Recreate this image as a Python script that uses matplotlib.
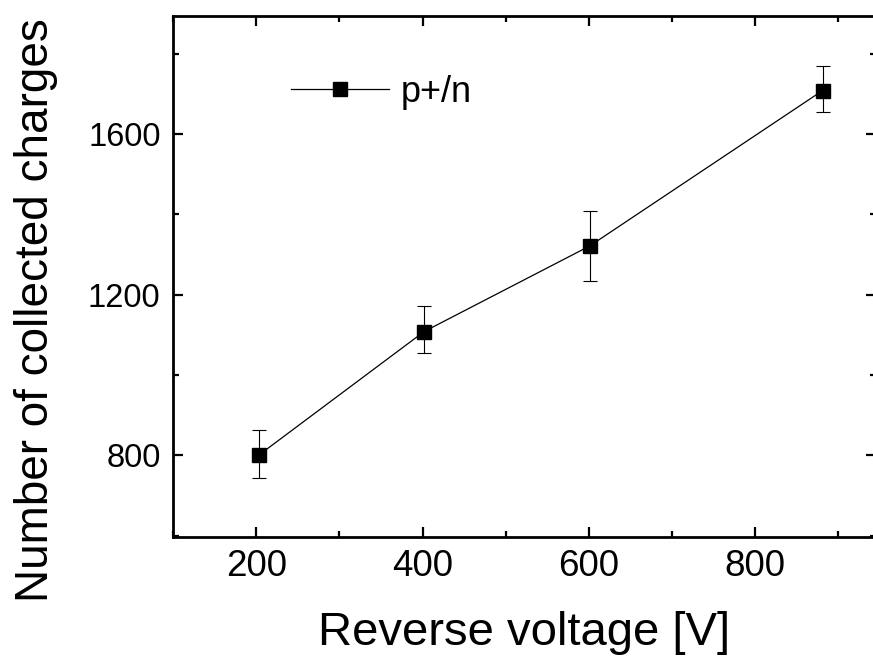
import matplotlib
matplotlib.use("Agg")
import matplotlib.pyplot as plt
from matplotlib.ticker import MultipleLocator

plt.rcParams['font.family'] = ['Liberation Sans', 'DejaVu Sans']

voltage = [203, 402, 601, 881]
charges = [800, 1108, 1321, 1708]
err_low = [56, 54, 87, 54]
err_high = [62, 64, 87, 60]
series_label = "p+/n"
xlabel = "Reverse voltage [V]"
ylabel = "Number of collected charges"

fig = plt.figure(figsize=(8.73, 6.61), dpi=100)
ax = fig.add_axes([0.1982, 0.188, 0.805, 0.788])

ax.errorbar(voltage, charges, yerr=[err_low, err_high], fmt='none',
            ecolor='black', elinewidth=0.8, capsize=5, capthick=0.8, zorder=2)
ax.plot(voltage, charges, color='black', linewidth=0.9, marker='s',
        markersize=10, markerfacecolor='black', markeredgecolor='black',
        label=series_label, zorder=3)

ax.set_xlim(100, 945)
ax.set_ylim(597, 1894)
ax.xaxis.set_major_locator(MultipleLocator(200))
ax.xaxis.set_minor_locator(MultipleLocator(100))
ax.yaxis.set_major_locator(MultipleLocator(400))
ax.yaxis.set_minor_locator(MultipleLocator(200))

ax.tick_params(which='both', direction='in', top=True, right=True,
               width=1.6, pad=9)
ax.tick_params(axis='x', labelsize=26.5)
ax.tick_params(axis='y', labelsize=23.5)
ax.tick_params(which='major', length=7)
ax.tick_params(which='minor', length=4)
for s in ax.spines.values():
    s.set_linewidth(2.0)

ax.set_xlabel(xlabel, fontsize=34, labelpad=19)
ax.set_ylabel(ylabel, fontsize=33)
ax.yaxis.set_label_coords(-0.163, 0.435)

leg = ax.legend(loc='center left', bbox_to_anchor=(0.168, 0.8536),
                frameon=False, fontsize=26, handlelength=2.7,
                handletextpad=0.33, borderpad=0, borderaxespad=0)

fig.savefig("out.png", dpi=100)
